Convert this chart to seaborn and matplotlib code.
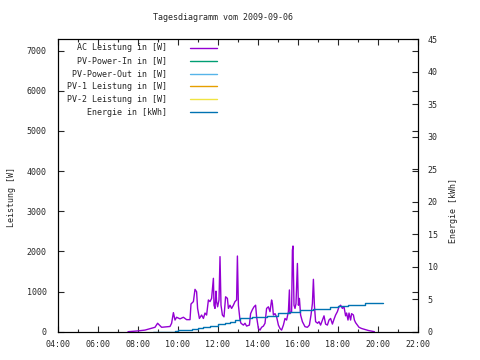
import matplotlib
matplotlib.use("Agg")
import matplotlib.pyplot as plt
import seaborn as sns
import pandas as pd
from matplotlib.ticker import MultipleLocator, FuncFormatter

sns.set_style("white")
plt.rcParams["font.family"] = ["DejaVu Sans Mono"]
plt.rcParams["font.size"] = 6

# AC Leistung in [W] over time of day (hours)
ac_hours = [7.5, 8.0, 8.35, 8.6, 8.85, 8.98, 9.18, 9.4, 9.6, 9.68, 9.77, 9.85, 9.93,
            10.1, 10.27, 10.43, 10.6, 10.65, 10.77, 10.85, 10.93, 10.98, 11.07, 11.18,
            11.27, 11.35, 11.43, 11.52, 11.6, 11.68, 11.77, 11.8, 11.85, 11.9, 11.93,
            11.98, 12.05, 12.1, 12.15, 12.22, 12.3, 12.38, 12.47, 12.52, 12.6, 12.68,
            12.77, 12.85, 12.93, 12.97, 13.02, 13.1, 13.15, 13.27, 13.35, 13.43, 13.57,
            13.63, 13.72, 13.8, 13.88, 13.93, 14.02, 14.1, 14.18, 14.27, 14.35, 14.43,
            14.52, 14.6, 14.68, 14.72, 14.77, 14.85, 14.93, 15.02, 15.1, 15.18, 15.27,
            15.35, 15.43, 15.52, 15.57, 15.6, 15.68, 15.72, 15.75, 15.8, 15.85, 15.9,
            15.97, 16.02, 16.07, 16.13, 16.22, 16.35, 16.47, 16.57, 16.65, 16.72, 16.77,
            16.82, 16.88, 16.98, 17.05, 17.13, 17.22, 17.3, 17.38, 17.47, 17.55, 17.63,
            17.72, 17.8, 17.88, 17.97, 18.05, 18.13, 18.22, 18.3, 18.38, 18.43, 18.5,
            18.55, 18.63, 18.68, 18.77, 18.82, 18.88, 18.97, 19.05, 19.18, 19.35, 19.52,
            19.68, 19.82]
ac_watts = [0, 20, 40, 75, 110, 210, 110, 120, 130, 210, 475, 290, 360,
            320, 360, 300, 300, 690, 750, 1055, 995, 580, 330, 415,
            330, 465, 415, 790, 750, 830, 1330, 660, 580, 1010, 750,
            620, 790, 1870, 660, 415, 370, 870, 830, 580, 660, 580,
            660, 750, 790, 1885, 660, 290, 210, 165, 210, 140, 165,
            450, 550, 620, 660, 370, 80, 40, 110, 140, 210, 580,
            620, 500, 790, 700, 415, 450, 370, 165, 80, 40, 165,
            330, 290, 500, 1040, 450, 500, 2035, 2135, 660, 580, 700,
            1700, 660, 830, 415, 250, 125, 110, 165, 415, 700, 1305,
            660, 250, 210, 250, 165, 290, 395, 190, 165, 290, 330,
            190, 310, 415, 500, 620, 660, 580, 620, 395, 465, 290,
            465, 290, 450, 415, 290, 225, 165, 110, 80, 55, 30,
            15, 0]

# Energie in [kWh], cumulative
energy_hours = [8.77, 9.85, 10.02, 10.68, 11.02, 11.27, 11.6, 12.02, 12.35, 12.6,
                12.85, 13.1, 13.68, 14.43, 15.02, 15.55, 16.1, 16.77, 17.6, 18.02,
                18.52, 19.35, 20.27]
energy_kwh = [0, 0.15, 0.26, 0.4, 0.6, 0.77, 0.92, 1.14, 1.38, 1.54,
              1.8, 2.06, 2.2, 2.42, 2.83, 3.05, 3.27, 3.54, 3.75, 3.9,
              4.1, 4.42, 4.42]

legend_names = ["AC Leistung in [W]", "PV-Power-In in [W]", "PV-Power-Out in [W]",
                "PV-1 Leistung in [W]", "PV-2 Leistung in [W]", "Energie in [kWh]"]
legend_colors = ["#9400d3", "#009e73", "#56b4e9", "#e69f00", "#f0e442", "#0072b2"]

ac = pd.DataFrame({"hour": ac_hours, "watt": ac_watts})
en = pd.DataFrame({"hour": energy_hours, "kwh": energy_kwh})

fig = plt.figure(figsize=(4.8, 3.6), dpi=100)
ax = fig.add_axes([58 / 480, 1 - 331.7 / 360, 360 / 480, 292.4 / 360])
ax2 = ax.twinx()

sns.lineplot(data=ac, x="hour", y="watt", ax=ax, color=legend_colors[0],
             lw=1.0, sort=False, estimator=None)
sns.lineplot(data=en, x="hour", y="kwh", ax=ax2, color=legend_colors[5],
             lw=1.0, drawstyle="steps-post", sort=False, estimator=None)

ax.set_xlim(4, 22)
ax.set_ylim(0, 7284)
ax2.set_ylim(0, 45)

ax.xaxis.set_major_locator(MultipleLocator(2))
ax.xaxis.set_minor_locator(MultipleLocator(1))
ax.xaxis.set_major_formatter(FuncFormatter(lambda v, p: f"{int(v):02d}:00"))
ax.yaxis.set_major_locator(MultipleLocator(1000))
ax2.yaxis.set_major_locator(MultipleLocator(5))

ax.tick_params(axis="x", which="major", direction="in", length=4, width=0.8,
               top=True, bottom=True, pad=6)
ax.tick_params(axis="x", which="minor", direction="in", length=2, width=0.8,
               top=True, bottom=True)
ax.tick_params(axis="y", direction="in", length=4, width=0.8, left=True, right=True, pad=8)
ax2.tick_params(axis="y", direction="in", length=4, width=0.8, right=True, pad=7)

for spine in list(ax.spines.values()) + list(ax2.spines.values()):
    spine.set_color("black")
    spine.set_linewidth(0.8)

ax.set_xlabel("")
ax.set_ylabel("Leistung [W]")
ax.yaxis.set_label_coords(-0.116, 0.46)
ax2.set_ylabel("Energie [kWh]")
ax2.yaxis.set_label_coords(1.086, 0.416)

fig.text(223 / 480, 1 - 18 / 360, "Tagesdiagramm vom 2009-09-06",
         ha="center", va="center")

# gnuplot-style key: right-aligned text with sample line on the right
for i, (name, col) in enumerate(zip(legend_names, legend_colors)):
    yy = 0.971 - i * 0.0441
    ax.text(0.302, yy, name, transform=ax.transAxes, ha="right", va="center")
    ax.plot([0.367, 0.4425], [yy, yy], transform=ax.transAxes, color=col, lw=1.0)

fig.savefig("out.png", dpi=100)
